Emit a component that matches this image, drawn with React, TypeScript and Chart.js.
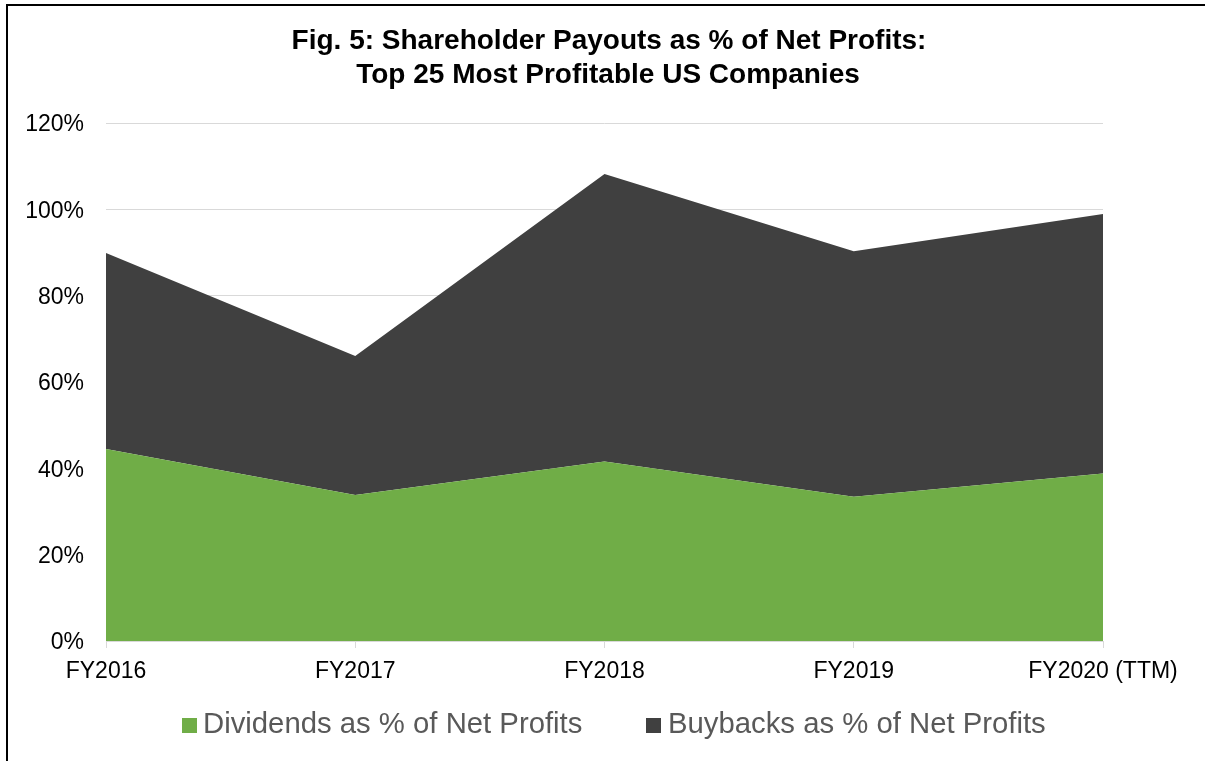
import React, { useEffect, useRef } from "react";
import { Chart, registerables } from "chart.js";

Chart.register(...registerables);

const categories = ["FY2016", "FY2017", "FY2018", "FY2019", "FY2020 (TTM)"];
const dividends = [44.5, 33.8, 41.6, 33.4, 38.8];
const buybacks = [45.4, 32.2, 66.6, 56.9, 60.1];
const titleLines = ["Fig. 5: Shareholder Payouts as % of Net Profits:", "Top 25 Most Profitable US Companies"];
const seriesNames = ["Dividends as % of Net Profits", "Buybacks as % of Net Profits"];
const colors = ["#70AD47", "#404040"];

const FONT = "'Liberation Sans', Arial, sans-serif";

const overlayPlugin = {
  id: "overlay",
  afterDraw(chart: any) {
    const ctx = chart.ctx;
    ctx.save();
    ctx.fillStyle = "#000000";
    ctx.font = `bold 28px ${FONT}`;
    ctx.textAlign = "center";
    ctx.textBaseline = "alphabetic";
    ctx.fillText(titleLines[0], 609, 49);
    ctx.fillText(titleLines[1], 608, 83);

    ctx.font = `29.3px ${FONT}`;
    ctx.textAlign = "left";
    const boxX = [182, 646];
    const textX = [203, 668];
    for (let i = 0; i < 2; i++) {
      ctx.fillStyle = colors[i];
      ctx.fillRect(boxX[i], 718, 15, 15);
      ctx.fillStyle = "#595959";
      ctx.fillText(seriesNames[i], textX[i], 733);
    }
    ctx.restore();
  },
};

export default function App() {
  const ref = useRef<HTMLCanvasElement>(null);
  useEffect(() => {
    const chart = new Chart(ref.current as HTMLCanvasElement, {
      type: "line",
      data: {
        labels: categories,
        datasets: [
          {
            label: seriesNames[0],
            data: dividends,
            backgroundColor: colors[0],
            borderColor: colors[0],
            borderWidth: 0,
            pointRadius: 0,
            fill: "origin",
            tension: 0,
          },
          {
            label: seriesNames[1],
            data: buybacks,
            backgroundColor: colors[1],
            borderColor: colors[1],
            borderWidth: 0,
            pointRadius: 0,
            fill: "-1",
            tension: 0,
          },
        ],
      },
      options: {
        animation: false,
        responsive: false,
        devicePixelRatio: 1,
        layout: { padding: { left: 0, right: 102, top: 123, bottom: 0 } },
        plugins: {
          legend: { display: false },
          title: { display: false },
          tooltip: { enabled: false },
        },
        scales: {
          x: {
            offset: false,
            grid: {
              display: true,
              drawOnChartArea: false,
              drawTicks: true,
              tickLength: 7,
              color: "#d9d9d9",
            },
            border: { display: true, color: "#d9d9d9", width: 1 },
            ticks: {
              color: "#000000",
              font: { family: FONT, size: 23 },
              padding: 10,
              maxRotation: 0,
              autoSkip: false,
            },
            afterFit(scale: any) {
              scale.height = 120;
            },
          },
          y: {
            stacked: true,
            min: 0,
            max: 120,
            ticks: {
              stepSize: 20,
              color: "#000000",
              font: { family: FONT, size: 23 },
              padding: 22,
              labelOffset: 2,
              callback: (v: any) => `${v}%`,
            },
            grid: {
              color: "#d9d9d9",
              lineWidth: 1,
              drawTicks: false,
            },
            border: { display: false },
            afterFit(scale: any) {
              scale.width = 106;
            },
          },
        },
      },
      plugins: [overlayPlugin],
    } as any);
    return () => chart.destroy();
  }, []);

  return (
    <div style={{ position: "fixed", left: 0, top: 0, width: 1205, height: 761, background: "#ffffff", overflow: "hidden" }}>
      <div
        style={{
          position: "absolute",
          left: 6,
          top: 4,
          width: 1300,
          height: 900,
          borderLeft: "2px solid #000",
          borderTop: "2px solid #000",
          boxSizing: "border-box",
        }}
      />
      <canvas ref={ref} width={1205} height={761} style={{ position: "absolute", left: 0, top: 0, display: "block" }} />
    </div>
  );
}
